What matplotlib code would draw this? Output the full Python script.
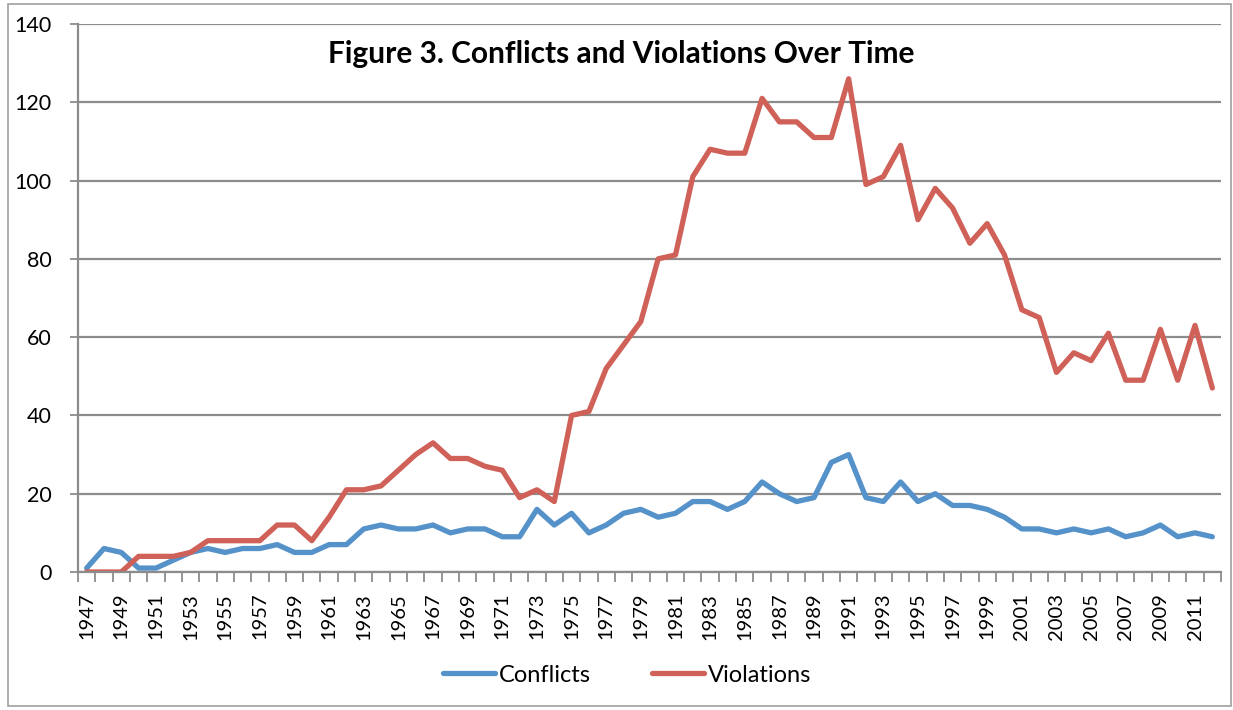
# Conflicts and violations over time
import numpy as np
import matplotlib.pyplot as plt
from matplotlib.patches import Rectangle

plt.rcParams['font.family'] = ['Lato', 'DejaVu Sans']

years = list(range(1947, 2013))
conflicts = [1, 6, 5, 1, 1, 3, 5, 6, 5, 6, 6, 7, 5, 5, 7, 7, 11, 12, 11, 11,
             12, 10, 11, 11, 9, 9, 16, 12, 15, 10, 12, 15, 16, 14, 15, 18, 18, 16,
             18, 23, 20, 18, 19, 28, 30, 19, 18, 23, 18, 20, 17, 17, 16, 14, 11, 11,
             10, 11, 10, 11, 9, 10, 12, 9, 10, 9]
violations = [0, 0, 0, 4, 4, 4, 5, 8, 8, 8, 8, 12, 12, 8, 14, 21, 21, 22, 26, 30,
              33, 29, 29, 27, 26, 19, 21, 18, 40, 41, 52, 58, 64, 80, 81, 101, 108, 107,
              107, 121, 115, 115, 111, 111, 126, 99, 101, 109, 90, 98, 93, 84, 89, 81, 67, 65,
              51, 56, 54, 61, 49, 49, 62, 49, 63, 47]

grid_col = '#8c8c8c'
fig = plt.figure(figsize=(12.33, 7.10), dpi=100)
ax = fig.add_axes([78 / 1233, 1 - 572 / 710, 1143 / 1233, 548 / 710])

x = np.arange(len(years))
ax.plot(x, conflicts, color='#5592C9', lw=3.8, label='Conflicts', solid_capstyle='round')
ax.plot(x, violations, color='#CF6158', lw=3.8, label='Violations', solid_capstyle='round')

ax.set_xlim(-0.5, len(years) - 0.5)
ax.set_ylim(0, 140)
ax.set_yticks(range(0, 141, 20))
ax.yaxis.grid(True, color=grid_col, lw=1.6)
ax.set_axisbelow(True)

ax.set_xticks(x[::2])
ax.set_xticklabels([str(y) for y in years[::2]], rotation=90)
ax.set_xticks(np.arange(-0.5, len(years)), minor=True)
ax.tick_params(axis='x', which='major', length=0, pad=15, labelsize=14.5)
ax.tick_params(axis='x', which='minor', length=7, width=1.3, color=grid_col)
ax.tick_params(axis='y', length=6, width=1.3, color=grid_col, labelsize=15.5, pad=13)

for s in ['top', 'right']:
    ax.spines[s].set_visible(False)
for s in ['left', 'bottom']:
    ax.spines[s].set_color(grid_col)
    ax.spines[s].set_linewidth(1.6)

fig.text(621 / 1233, 1 - 54 / 710, 'Figure 3. Conflicts and Violations Over Time',
         ha='center', va='center', fontsize=21.5, fontweight='bold')

fig.legend(loc='center', bbox_to_anchor=(627 / 1233, 1 - 675 / 710), ncol=2, frameon=False,
           fontsize=17, handlelength=2.2, handletextpad=0.15, columnspacing=2.6)

fig.patches.append(Rectangle((8 / 1233, 0.005), 1 - 10 / 1233, 0.99, transform=fig.transFigure,
                             fill=False, edgecolor='#a0a0a0', lw=1.2))

fig.savefig('out.png', dpi=100)
